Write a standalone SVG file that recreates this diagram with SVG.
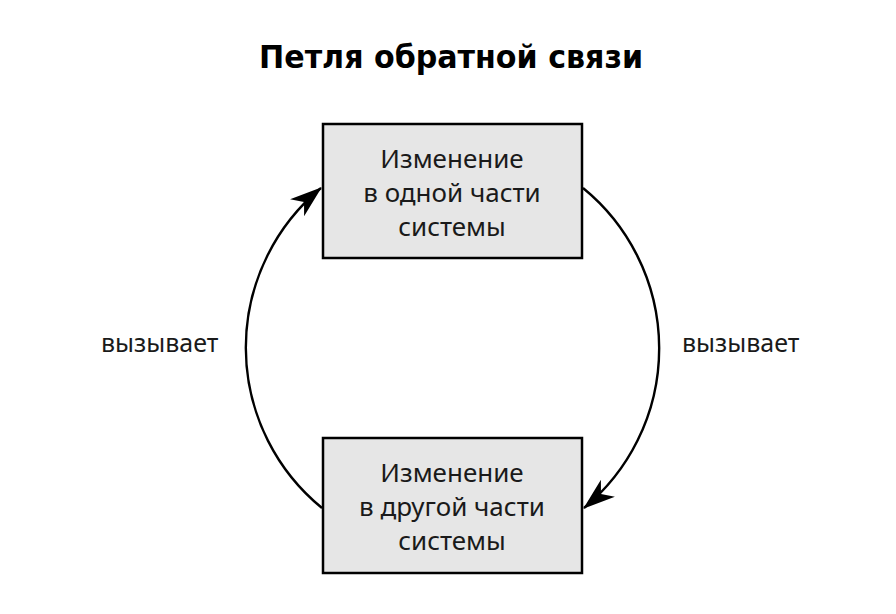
<svg xmlns="http://www.w3.org/2000/svg" width="896" height="614" viewBox="0 0 896 614">
<style>
.box{fill:#e6e6e6;stroke:#000;stroke-width:2.5}
.t{font-family:"Noto Sans","DejaVu Sans",sans-serif;font-size:26px;fill:#1a1a1a;text-anchor:middle}
.lbl{font-family:"Noto Sans","DejaVu Sans",sans-serif;font-size:25px;fill:#1a1a1a}
.title{font-family:"DejaVu Sans","Noto Sans",sans-serif;font-weight:bold;font-size:32px;fill:#000}
.arc{fill:none;stroke:#000;stroke-width:2.4}
</style>
<defs>
<marker id="ah" viewBox="0 0 32 22" refX="31" refY="11" markerWidth="32" markerHeight="22" markerUnits="userSpaceOnUse" orient="auto">
<path d="M0,0 L32,11 L0,22 L9,11 Z" fill="#000"/>
</marker>
</defs>
<rect width="896" height="614" fill="#fff"/>
<text class="title" x="259" y="68" textLength="384" lengthAdjust="spacingAndGlyphs">Петля обратной связи</text>
<g id="connectors">
<path class="arc" d="M 322 508 A 207 207 0 0 1 321 188" marker-end="url(#ah)"/>
<path class="arc" d="M 583 188 A 207 207 0 0 1 584 508" marker-end="url(#ah)"/>
</g>
<g id="node-top">
<rect class="box" x="323" y="124" width="259" height="134"/>
<text class="t" x="452" y="168">Изменение</text>
<text class="t" x="452" y="202">в одной части</text>
<text class="t" x="452" y="236">системы</text>
</g>
<g id="node-bottom">
<rect class="box" x="323" y="438" width="259" height="135"/>
<text class="t" x="452" y="482">Изменение</text>
<text class="t" x="452" y="516">в другой части</text>
<text class="t" x="452" y="550">системы</text>
</g>
<g id="label-left">
<text class="lbl" x="101" y="352">вызывает</text>
</g>
<g id="label-right">
<text class="lbl" x="682" y="352">вызывает</text>
</g>
</svg>
